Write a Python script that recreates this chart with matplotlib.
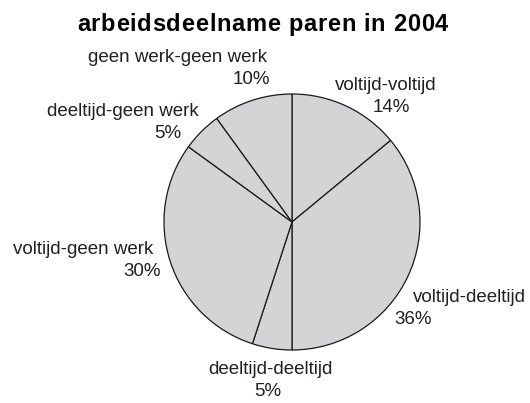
import matplotlib
matplotlib.use("Agg")
from matplotlib import pyplot as plt
from matplotlib import font_manager
from matplotlib.ft2font import FT2Font

# data, clockwise from the top
labels = ["voltijd-voltijd", "voltijd-deeltijd", "deeltijd-deeltijd",
          "voltijd-geen werk", "deeltijd-geen werk", "geen werk-geen werk"]
shares = [14, 36, 5, 30, 5, 10]
title = "arbeidsdeelname paren in 2004"

# label placement in pixels (name line, percentage line)
name_pos = [(386, 86), (469, 298), (270, 369), (83, 250), (123, 112), (178, 57)]
pct_pos = [(391, 108), (413, 319), (268, 391), (142, 272), (168, 134), (251, 80)]

W, H = 530, 403

fig = plt.figure(figsize=(W / 100, H / 100), dpi=100)
ax = fig.add_axes([0, 0, 1, 1])

# pie drawn in pixel coords; y axis is flipped so counterclock=True gives clockwise
ax.pie(shares, center=(292, 222), radius=128, startangle=-90, counterclock=True,
       colors=["#d4d4d6"] * len(shares), frame=True,
       wedgeprops=dict(edgecolor="#1a1a1a", linewidth=0.9))
ax.set_xlim(0, W)
ax.set_ylim(H, 0)
ax.set_aspect("equal")
ax.axis("off")

for lab, v, (nx, ny), (px, py) in zip(labels, shares, name_pos, pct_pos):
    ax.text(nx, ny, lab, ha="center", va="center", fontsize=13.5,
            family="Liberation Sans", color="#231f20")
    ax.text(px, py, "%d%%" % v, ha="center", va="center", fontsize=13.5,
            family="Liberation Sans", color="#231f20")

# title with a little extra letter spacing, placed glyph by glyph
tsize = 17
fp = font_manager.FontProperties(family="Liberation Sans", weight="bold")
ft = FT2Font(font_manager.findfont(fp))
ft.set_size(tsize, 100)
adv = [ft.load_char(ord(c)).linearHoriAdvance / 65536 for c in title]
spacing = (371 - sum(adv)) / (len(title) - 1)
x = 77
for c, a in zip(title, adv):
    ax.text(x, 31, c, ha="left", va="baseline", fontsize=tsize,
            family="Liberation Sans", fontweight="bold", color="black")
    x += a + spacing

fig.savefig("out.png", dpi=100)
